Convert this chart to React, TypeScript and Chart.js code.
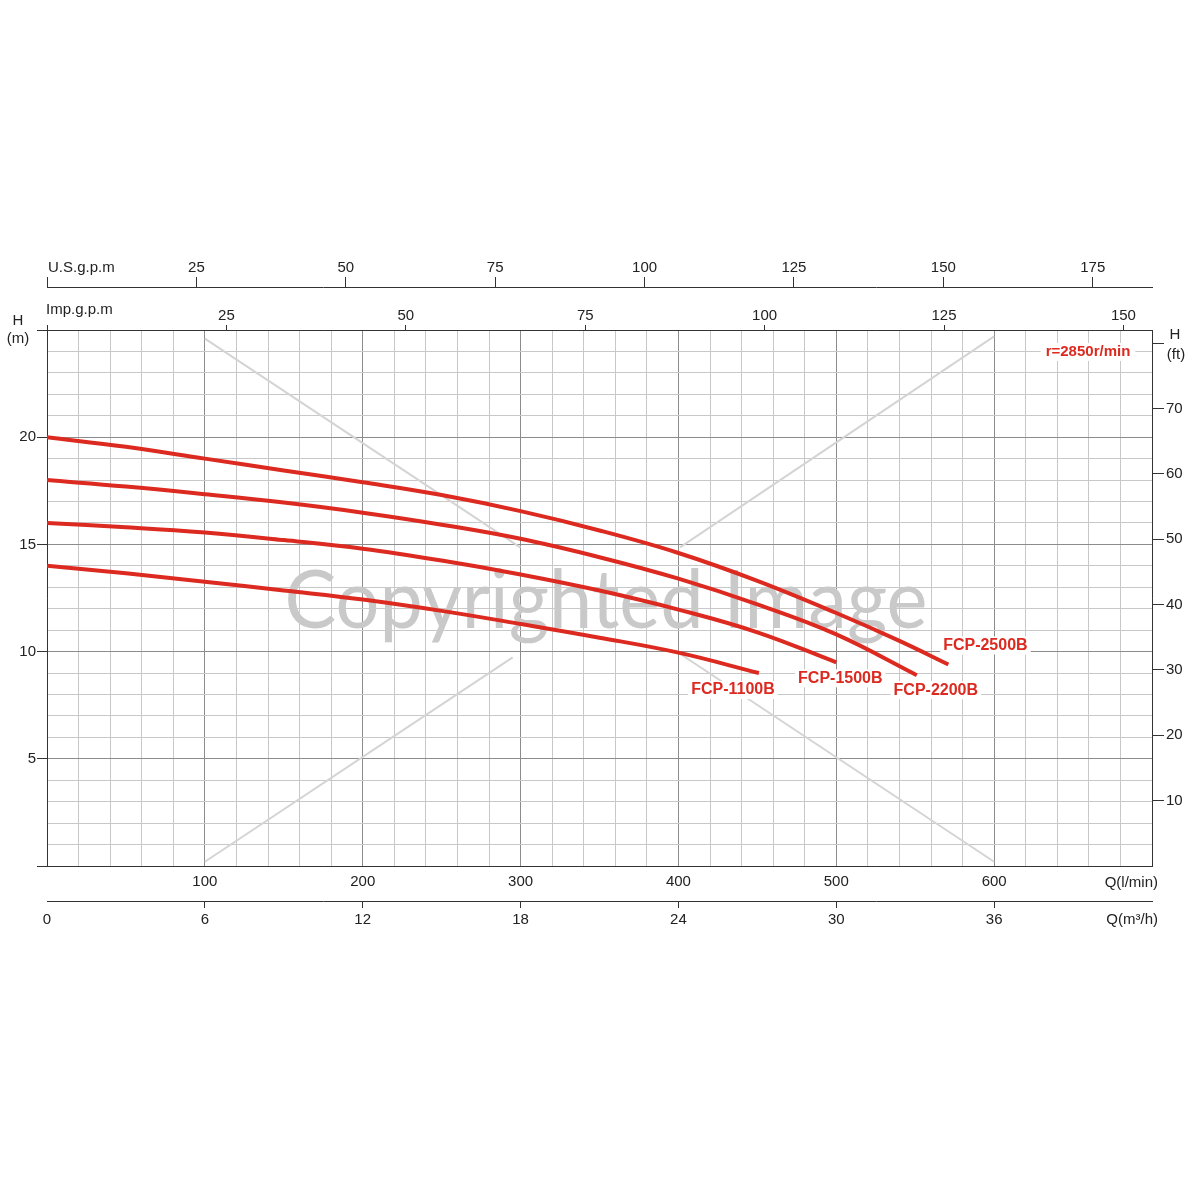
import React, { useEffect, useRef } from 'react';
import { Chart, registerables } from 'chart.js';

Chart.register(...registerables);

// ---- data (Q in l/min, H in m) ----
const seriesNames = ['FCP-2500B', 'FCP-2200B', 'FCP-1500B', 'FCP-1100B'];

const flow2500 = [0, 50, 100, 150, 200, 250, 300, 350, 400, 450, 500, 540, 571];
const head2500 = [20.0, 19.55, 19.0, 18.45, 17.9, 17.3, 16.55, 15.65, 14.6, 13.3, 11.8, 10.5, 9.4];

const flow2200 = [0, 50, 100, 150, 200, 250, 300, 350, 400, 450, 500, 551];
const head2200 = [18.0, 17.7, 17.34, 16.95, 16.48, 15.92, 15.26, 14.4, 13.4, 12.2, 10.8, 8.9];

const flow1500 = [0, 50, 100, 150, 200, 250, 300, 350, 400, 450, 500];
const head1500 = [16.0, 15.8, 15.55, 15.2, 14.8, 14.25, 13.6, 12.85, 11.96, 10.9, 9.5];

const flow1100 = [0, 50, 100, 150, 200, 250, 300, 350, 400, 451];
const head1100 = [14.0, 13.65, 13.26, 12.85, 12.43, 11.9, 11.29, 10.65, 9.95, 9.0];

// watermark cross lines (Q l/min, H m)
const crossAFlow = [100, 300];
const crossAHead = [24.6, 14.85];
const crossA2Flow = [401, 600];
const crossA2Head = [9.9, 0.2];
const crossBFlow = [600, 401];
const crossBHead = [24.7, 14.86];
const crossB2Flow = [295, 100];
const crossB2Head = [9.73, 0.2];

const Q_MAX = 700; // l/min
const H_MAX = 25; // m
const LPM_PER_USGPM = 3.78541;
const LPM_PER_IMPGPM = 4.54609;
const M_PER_FT = 0.3048;

const rpmLabel = 'r=2850r/min';
const watermarkText = 'Copyrighted Image';

const RED = '#dc2a20';
const FONT = "'Liberation Sans', Arial, sans-serif";
const MAJOR = '#8c8c8c';
const MINOR = '#c8c8c8';
const AXIS = '#333333';

const pts = (xs: number[], ys: number[]) => xs.map((x, i) => ({ x, y: ys[i] }));

const labelOffsets = [
  { dx: 37, dy: -19 },
  { dx: 19, dy: 15 },
  { dx: 4, dy: 16 },
  { dx: -26, dy: 17 },
];

const textPlugin = {
  id: 'textPlugin',
  beforeDatasetsDraw(chart: any) {
    const { ctx, chartArea } = chart;
    ctx.save();
    ctx.font = `82px Lato, 'Open Sans', sans-serif`;
    const w = ctx.measureText(watermarkText).width;
    const target = 643;
    const cx = chartArea.left + 559;
    const by = chartArea.top + 298;
    ctx.translate(cx, by);
    ctx.scale(target / w, 1);
    ctx.fillStyle = '#c9c9c9';
    ctx.textAlign = 'center';
    ctx.textBaseline = 'alphabetic';
    ctx.fillText(watermarkText, 0, 0);
    ctx.restore();
  },
  afterDatasetsDraw(chart: any) {
    const { ctx, chartArea } = chart;
    const xs = chart.scales.x;
    const ys = chart.scales.y;
    ctx.save();
    ctx.font = `bold 16px ${FONT}`;
    ctx.textAlign = 'center';
    ctx.textBaseline = 'middle';
    const flows = [flow2500, flow2200, flow1500, flow1100];
    const heads = [head2500, head2200, head1500, head1100];
    seriesNames.forEach((name, i) => {
      const f = flows[i];
      const h = heads[i];
      const px = xs.getPixelForValue(f[f.length - 1]) + labelOffsets[i].dx;
      const py = ys.getPixelForValue(h[h.length - 1]) + labelOffsets[i].dy;
      const tw = ctx.measureText(name).width;
      ctx.fillStyle = '#ffffff';
      ctx.fillRect(px - tw / 2 - 3, py - 9, tw + 6, 18);
      ctx.fillStyle = RED;
      ctx.fillText(name, px, py);
    });
    // rpm label
    ctx.font = `bold 15px ${FONT}`;
    const rx = chartArea.right - 64;
    const ry = chartArea.top + 22;
    const rw = ctx.measureText(rpmLabel).width;
    ctx.fillStyle = '#ffffff';
    ctx.fillRect(rx - rw / 2 - 5, ry - 9, rw + 10, 18);
    ctx.fillStyle = RED;
    ctx.fillText(rpmLabel, rx, ry);
    ctx.restore();
  },
  afterDraw(chart: any) {
    const { ctx, chartArea } = chart;
    const us = chart.scales.xUS;
    const imp = chart.scales.xImp;
    const xs = chart.scales.x;
    const m3 = chart.scales.xM3;
    const ft = chart.scales.yft;
    ctx.save();
    ctx.fillStyle = '#222';
    ctx.font = `15px ${FONT}`;
    ctx.textBaseline = 'middle';
    ctx.textAlign = 'left';
    ctx.fillText('U.S.g.p.m', us.getPixelForValue(0) + 1, us.bottom - 19);
    ctx.fillText('Imp.g.p.m', imp.getPixelForValue(0) - 1, imp.bottom - 20);
    ctx.textAlign = 'center';
    ctx.fillText('H', 18, chartArea.top - 9);
    ctx.fillText('(m)', 18, chartArea.top + 9);
    const fy = ft.getPixelForValue(80);
    ctx.fillText('H', ft.left + 23, fy - 8);
    ctx.fillText('(ft)', ft.left + 24, fy + 12);
    ctx.textAlign = 'right';
    ctx.fillText('Q(l/min)', chartArea.right + 6, xs.top + 17);
    ctx.fillText('Q(m\u00B3/h)', chartArea.right + 6, m3.top + 19);
    ctx.restore();
  },
};

export default function App() {
  const ref = useRef<HTMLCanvasElement | null>(null);

  useEffect(() => {
    if (!ref.current) return;
    const curveDs = (name: string, f: number[], h: number[]) => ({
      label: name,
      data: pts(f, h),
      borderColor: RED,
      borderWidth: 4,
      pointRadius: 0,
      fill: false,
      tension: 0.4,
      order: 0,
      xAxisID: 'x',
      yAxisID: 'y',
    });
    const crossDs = (f: number[], h: number[]) => ({
      label: '',
      data: pts(f, h),
      borderColor: '#d4d4d4',
      borderWidth: 2,
      pointRadius: 0,
      fill: false,
      order: 1,
      xAxisID: 'x',
      yAxisID: 'y',
    });

    const tickColor5 = (c: any) => (c.tick && Math.abs(c.tick.value % 5) < 1e-6 ? AXIS : 'rgba(0,0,0,0)');

    const chart = new Chart(ref.current, {
      type: 'line',
      data: {
        datasets: [
          curveDs(seriesNames[0], flow2500, head2500),
          curveDs(seriesNames[1], flow2200, head2200),
          curveDs(seriesNames[2], flow1500, head1500),
          curveDs(seriesNames[3], flow1100, head1100),
          crossDs(crossAFlow, crossAHead),
          crossDs(crossA2Flow, crossA2Head),
          crossDs(crossBFlow, crossBHead),
          crossDs(crossB2Flow, crossB2Head),
        ] as any,
      },
      options: {
        responsive: false,
        animation: false,
        devicePixelRatio: 1,
        layout: { padding: { top: 250, bottom: 249, left: 0, right: 0 } },
        plugins: { legend: { display: false }, tooltip: { enabled: false } },
        scales: {
          x: {
            type: 'linear',
            position: 'bottom',
            weight: 1,
            min: 0,
            max: Q_MAX,
            afterFit: (s: any) => { s.height = 35; },
            ticks: {
              stepSize: 20,
              autoSkip: false,
              maxRotation: 0,
              padding: 7,
              color: '#222',
              font: { family: FONT, size: 15 },
              callback: (v: any) => (v % 100 === 0 && v > 0 && v < Q_MAX ? String(v) : ''),
            },
            grid: {
              drawTicks: false,
              color: (c: any) => (c.tick && c.tick.value % 100 === 0 ? MAJOR : MINOR),
              lineWidth: 1,
            },
            border: { display: true, color: AXIS, width: 1 },
          },
          xM3: {
            type: 'linear',
            position: 'bottom',
            weight: 2,
            min: 0,
            max: (Q_MAX * 60) / 1000,
            afterFit: (s: any) => { s.height = 50; },
            ticks: {
              stepSize: 6,
              autoSkip: false,
              maxRotation: 0,
              padding: 3,
              includeBounds: false,
              color: '#222',
              font: { family: FONT, size: 15 },
              callback: (v: any) => (v < 42 ? String(v) : ''),
            },
            grid: {
              drawOnChartArea: false,
              tickLength: 7,
              tickColor: (c: any) => (c.tick && (c.tick.value === 0 || c.tick.value >= 42) ? 'rgba(0,0,0,0)' : AXIS),
            },
            border: { display: true, color: AXIS, width: 1 },
          },
          xImp: {
            type: 'linear',
            position: 'top',
            weight: 1,
            min: 0,
            max: Q_MAX / LPM_PER_IMPGPM,
            afterFit: (s: any) => { s.height = 43; },
            ticks: {
              stepSize: 25,
              autoSkip: false,
              maxRotation: 0,
              padding: 0,
              includeBounds: false,
              color: '#222',
              font: { family: FONT, size: 15 },
              callback: (v: any) => (v > 0 ? String(v) : ''),
            },
            grid: { drawOnChartArea: false, tickLength: 5, tickColor: AXIS },
            border: { display: true, color: AXIS, width: 1 },
          },
          xUS: {
            type: 'linear',
            position: 'top',
            weight: 2,
            min: 0,
            max: Q_MAX / LPM_PER_USGPM,
            afterFit: (s: any) => { s.height = 37; },
            ticks: {
              stepSize: 25,
              autoSkip: false,
              maxRotation: 0,
              padding: 0,
              includeBounds: false,
              color: '#222',
              font: { family: FONT, size: 15 },
              callback: (v: any) => (v > 0 ? String(v) : ''),
            },
            grid: { drawOnChartArea: false, tickLength: 10, tickColor: AXIS },
            border: { display: true, color: AXIS, width: 1 },
          },
          y: {
            type: 'linear',
            position: 'left',
            min: 0,
            max: H_MAX,
            afterFit: (s: any) => { s.width = 47; },
            ticks: {
              stepSize: 1,
              autoSkip: false,
              padding: 1,
              color: '#222',
              font: { family: FONT, size: 15 },
              callback: (v: any) => (v % 5 === 0 && v > 0 && v < H_MAX ? String(v) : ''),
            },
            grid: {
              tickLength: 10,
              tickColor: tickColor5,
              color: (c: any) => (c.tick && c.tick.value % 5 === 0 ? MAJOR : MINOR),
              lineWidth: 1,
            },
            border: { display: true, color: AXIS, width: 1 },
          },
          yft: {
            type: 'linear',
            position: 'right',
            min: 0,
            max: H_MAX / M_PER_FT,
            afterFit: (s: any) => { s.width = 48; },
            ticks: {
              stepSize: 10,
              autoSkip: false,
              padding: 2,
              includeBounds: false,
              color: '#222',
              font: { family: FONT, size: 15 },
              callback: (v: any) => (v > 0 && v < 80 ? String(v) : ''),
            },
            grid: {
              drawOnChartArea: false,
              tickLength: 12,
              tickColor: (c: any) => (c.tick && c.tick.value > 0 ? AXIS : 'rgba(0,0,0,0)'),
            },
            border: { display: true, color: AXIS, width: 1 },
          },
        },
      } as any,
      plugins: [textPlugin],
    });
    return () => chart.destroy();
  }, []);

  return (
    <div style={{ position: 'fixed', left: 0, top: 0, width: 1200, height: 1200, background: '#ffffff' }}>
      <canvas ref={ref} width={1200} height={1200} style={{ display: 'block' }} />
    </div>
  );
}
